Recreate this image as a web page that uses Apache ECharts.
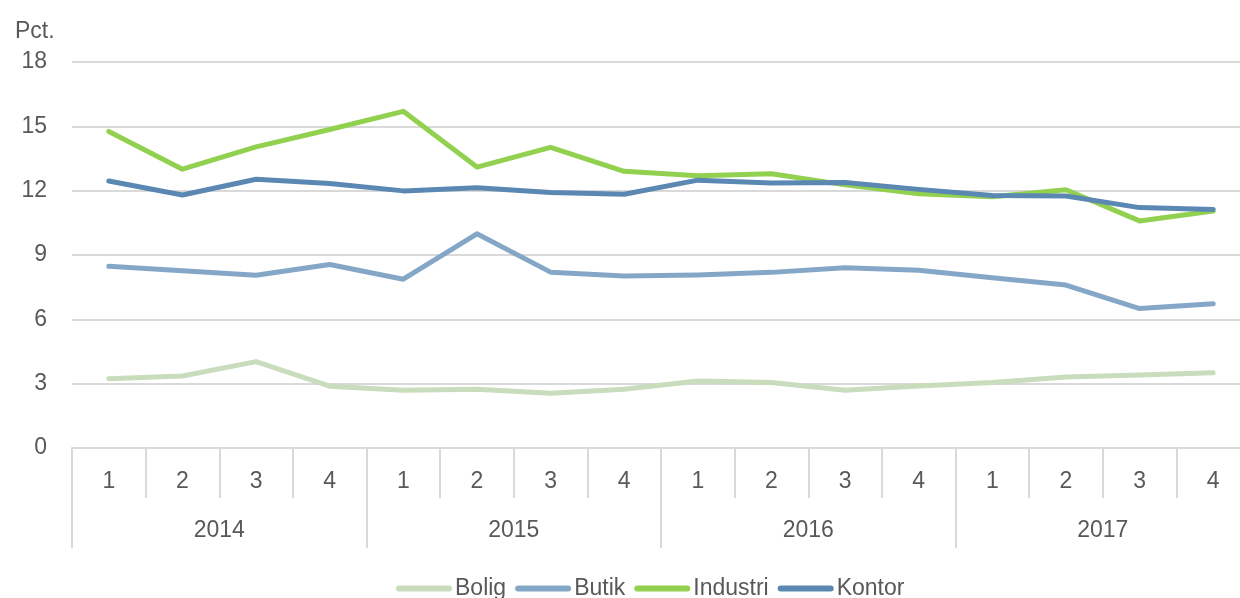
<!DOCTYPE html>
<html>
<head>
<meta charset="utf-8">
<script src="https://cdn.jsdelivr.net/npm/echarts@6/dist/echarts.min.js"></script>
<style>
  html, body { margin: 0; padding: 0; background: #fff; overflow: hidden; }
  #chart { width: 1240px; height: 598px; }
</style>
</head>
<body>
<div id="chart"></div>
<script>
const quarters = ['1', '2', '3', '4', '1', '2', '3', '4', '1', '2', '3', '4', '1', '2', '3', '4']
const years = ['2014', '2015', '2016', '2017']
const yTicks = { min: 0, max: 18, interval: 3 }

const bolig = [3.23, 3.36, 4.03, 2.88, 2.69, 2.74, 2.55, 2.74, 3.12, 3.05, 2.69, 2.89, 3.05, 3.31, 3.40, 3.51]
const butik = [8.47, 8.26, 8.06, 8.56, 7.87, 9.99, 8.20, 8.02, 8.07, 8.19, 8.41, 8.29, 7.94, 7.60, 6.50, 6.73]
const industri = [14.76, 13.0, 14.04, 14.85, 15.70, 13.1, 14.02, 12.9, 12.69, 12.79, 12.27, 11.86, 11.72, 12.04, 10.59, 11.05]
const kontor = [12.45, 11.8, 12.53, 12.33, 11.99, 12.14, 11.91, 11.83, 12.49, 12.36, 12.38, 12.06, 11.78, 11.75, 11.21, 11.12]

const FONT = "'Liberation Sans', Arial, sans-serif"
const TEXT = '#595959'
const GRID_LINE = '#d9d9d9'
const FS = 23

const chart = echarts.init(document.getElementById('chart'))

const lineSeries = (name, data, color) => ({
  name,
  type: 'line',
  data,
  symbol: 'none',
  xAxisIndex: 0,
  lineStyle: { width: 5, color, cap: 'round', join: 'round' },
  itemStyle: { color }
})

chart.setOption({
  animation: false,
  textStyle: { fontFamily: FONT },
  title: {
    text: 'Pct.',
    left: 10,
    top: 15,
    textStyle: { fontSize: FS, fontWeight: 'normal', color: TEXT, fontFamily: FONT }
  },
  // plot runs past the right edge of the picture, as in the reference
  grid: { left: 72, width: 1178, top: 62, bottom: 150, outerBoundsMode: 'none', containLabel: false },
  legend: {
    left: 391,
    top: 572,
    itemWidth: 56,
    itemHeight: 6,
    itemGap: 9,
    icon: 'path://M3,0 H53 A3,3 0 0 1 53,6 H3 A3,3 0 0 1 3,0 Z',
    textStyle: { fontSize: FS, color: TEXT, fontFamily: FONT, padding: [0, 0, 0, -2] },
    data: ['Bolig', 'Butik', 'Industri', 'Kontor']
  },
  xAxis: [
    {
      type: 'category',
      data: quarters,
      position: 'bottom',
      boundaryGap: true,
      axisLine: { show: true, lineStyle: { color: GRID_LINE, width: 2 } },
      axisTick: { show: true, interval: 0, length: 50, lineStyle: { color: GRID_LINE, width: 2 } },
      axisLabel: { interval: 0, margin: 22, fontSize: FS, color: TEXT, fontFamily: FONT }
    },
    {
      type: 'category',
      data: years,
      position: 'bottom',
      boundaryGap: true,
      axisLine: { show: false },
      axisTick: { show: true, interval: 0, length: 100, lineStyle: { color: GRID_LINE, width: 2 } },
      axisLabel: { interval: 0, margin: 71, fontSize: FS, color: TEXT, fontFamily: FONT }
    }
  ],
  yAxis: {
    type: 'value',
    min: yTicks.min,
    max: yTicks.max,
    interval: yTicks.interval,
    axisLine: { show: false },
    axisTick: { show: false },
    axisLabel: { margin: 25, fontSize: FS, color: TEXT, fontFamily: FONT },
    splitLine: { show: true, lineStyle: { color: GRID_LINE, width: 2 } }
  },
  series: [
    lineSeries('Bolig', bolig, '#c9dcbc'),
    lineSeries('Butik', butik, '#85a7c7'),
    lineSeries('Industri', industri, '#92d050'),
    lineSeries('Kontor', kontor, '#5b88b2')
  ]
})
</script>
</body>
</html>
